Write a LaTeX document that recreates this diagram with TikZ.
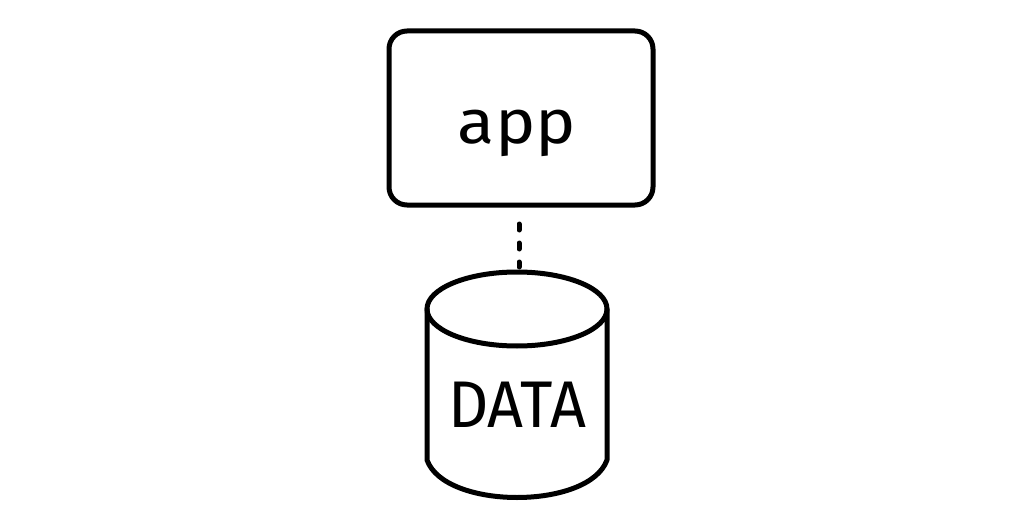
\documentclass[tikz,border=0pt]{standalone}
\usepackage{fontspec}
\setmainfont{Fira Sans}
\tikzset{
  sketch/.style={line width=5pt, line cap=round, line join=round, black},
  label/.style={inner sep=0pt, font=\fontsize{62}{66}\selectfont},
}
\begin{document}
\begin{tikzpicture}[x=1pt,y=-1pt]
\useasboundingbox (0,0) rectangle (1010,519);
% app box
\draw[sketch, rounded corners=18pt] (389,31) rectangle (653,205);
\node[label, xscale=1.1] (app) at (517,133) {app};
% cylinder
\draw[sketch] (517,309) ellipse [x radius=90, y radius=37];
\draw[sketch] (427,309) -- (427,460) .. controls (445,510) and (589,510) .. (607,460) -- (607,309);
\node[label, xscale=0.95, font=\fontsize{66}{70}\selectfont] (data) at (517,405) {DATA};
% dotted connector
\coordinate (appbot) at (519,224);
\coordinate (cyltop) at (519,267);
\draw[line width=5pt, line cap=round, dash pattern=on 6pt off 13pt] (appbot) -- (cyltop);
\end{tikzpicture}
\end{document}
